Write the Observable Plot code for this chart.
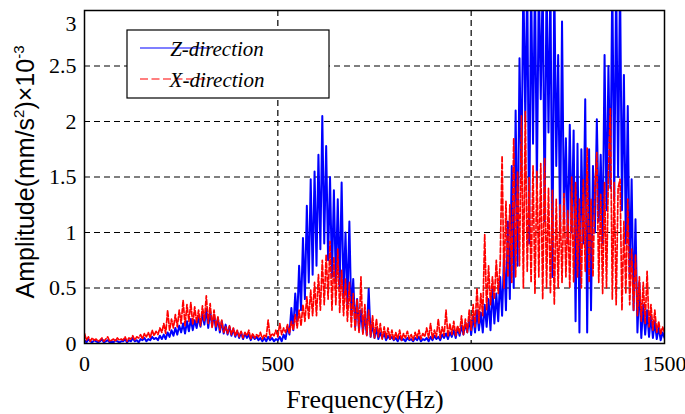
<!DOCTYPE html>
<html><head><meta charset="utf-8">
<script src="https://cdn.jsdelivr.net/npm/d3@7"></script>
<script src="https://cdn.jsdelivr.net/npm/@observablehq/plot@0.6"></script>
<style>body{margin:0;background:#fff;}</style>
</head><body><div id="chart"></div>
<script>
// Frequency sampling (Hz)
const freqStart = 0, freqStep = 5;
// Amplitude (mm/s^2 x 10^-3), Z-direction, read every 5 Hz
const zDirection = [
0.03,0.01,0.04,0.02,0.01,0.03,0.02,0.01,0.02,0.04,0.01,0.02,0.03,0.01,0.02,0.01,0.03,0.02,0.01,0.02,
0.02,0.04,0.01,0.03,0.02,0.05,0.02,0.03,0.01,0.04,0.03,0.05,0.02,0.04,0.03,0.06,0.04,0.05,0.03,0.07,
0.04,0.08,0.04,0.10,0.06,0.12,0.07,0.14,0.08,0.16,0.10,0.18,0.09,0.20,0.11,0.22,0.12,0.21,0.14,0.24,
0.15,0.27,0.17,0.31,0.14,0.29,0.16,0.26,0.12,0.23,0.10,0.20,0.09,0.17,0.08,0.15,0.07,0.13,0.06,0.11,
0.05,0.10,0.04,0.09,0.05,0.08,0.03,0.07,0.04,0.06,0.03,0.05,0.02,0.05,0.02,0.06,0.03,0.05,0.02,0.04,
0.03,0.06,0.02,0.08,0.04,0.15,0.08,0.32,0.12,0.45,0.20,0.70,0.30,0.95,0.40,1.24,0.55,1.48,0.62,1.55,
0.70,1.70,0.85,2.05,0.90,1.78,0.75,1.50,0.60,1.38,0.55,1.30,0.50,1.45,0.42,1.00,0.35,1.10,0.25,0.58,
0.15,0.40,0.12,0.30,0.10,0.25,0.08,0.49,0.06,0.18,0.05,0.14,0.04,0.10,0.05,0.09,0.03,0.07,0.04,0.06,
0.03,0.05,0.02,0.06,0.03,0.04,0.02,0.05,0.03,0.04,0.02,0.05,0.03,0.06,0.02,0.04,0.03,0.05,0.02,0.06,
0.03,0.07,0.04,0.06,0.03,0.08,0.05,0.09,0.04,0.10,0.06,0.12,0.05,0.14,0.07,0.16,0.08,0.18,0.10,0.22,
0.08,0.25,0.10,0.30,0.12,0.28,0.10,0.35,0.15,0.40,0.12,0.50,0.18,0.45,0.20,0.60,0.25,0.80,0.30,1.10,
0.40,1.60,0.50,2.10,0.70,2.57,1.50,3.30,2.00,3.30,0.90,3.30,1.80,3.30,1.40,3.30,2.20,3.30,1.10,3.30,
1.90,3.30,0.60,3.30,1.60,2.60,1.00,2.90,1.10,1.85,0.90,1.97,1.00,1.92,0.20,1.80,0.10,1.75,0.90,2.20,
0.10,1.75,0.30,1.60,1.00,2.02,1.10,1.70,0.90,2.60,1.20,2.50,1.40,3.30,1.30,3.30,1.50,3.30,1.20,2.42,
0.90,2.14,0.60,1.48,0.30,1.12,0.10,0.55,0.05,0.35,0.08,0.30,0.06,0.25,0.05,0.20,0.04,0.15,0.03,0.10,
0.05
];
// Amplitude, X-direction, read every 5 Hz
const xDirection = [
0.09,0.03,0.06,0.02,0.05,0.03,0.04,0.02,0.03,0.05,0.02,0.04,0.06,0.02,0.03,0.04,0.02,0.05,0.03,0.04,
0.03,0.06,0.02,0.05,0.04,0.07,0.03,0.06,0.05,0.08,0.04,0.09,0.06,0.10,0.05,0.12,0.07,0.11,0.08,0.14,
0.10,0.18,0.09,0.30,0.12,0.22,0.14,0.26,0.15,0.30,0.18,0.39,0.16,0.35,0.20,0.37,0.17,0.33,0.19,0.30,
0.16,0.34,0.20,0.43,0.18,0.36,0.14,0.30,0.15,0.24,0.12,0.21,0.10,0.15,0.09,0.16,0.08,0.14,0.07,0.12,
0.06,0.11,0.05,0.10,0.07,0.12,0.04,0.09,0.05,0.08,0.06,0.10,0.04,0.08,0.06,0.21,0.05,0.09,0.07,0.12,
0.06,0.18,0.08,0.14,0.10,0.17,0.09,0.20,0.12,0.26,0.14,0.30,0.16,0.35,0.20,0.42,0.22,0.48,0.25,0.55,
0.25,0.62,0.30,0.75,0.35,0.80,0.40,0.92,0.30,0.78,0.35,0.85,0.28,0.66,0.25,0.58,0.20,0.55,0.15,0.45,
0.12,0.40,0.10,0.60,0.08,0.35,0.07,0.30,0.06,0.25,0.05,0.22,0.06,0.18,0.04,0.15,0.05,0.14,0.04,0.12,
0.03,0.10,0.04,0.12,0.03,0.09,0.05,0.11,0.04,0.08,0.03,0.10,0.05,0.12,0.04,0.09,0.06,0.14,0.05,0.18,
0.04,0.12,0.06,0.22,0.05,0.15,0.07,0.30,0.06,0.18,0.08,0.20,0.07,0.16,0.09,0.25,0.08,0.22,0.10,0.30,
0.12,0.35,0.15,0.50,0.18,0.45,0.25,0.98,0.30,0.70,0.35,0.60,0.40,0.75,0.45,0.72,1.69,0.50,1.28,0.60,
1.25,0.55,1.85,0.60,1.55,0.70,2.05,0.50,2.09,0.65,1.50,0.55,1.60,0.45,1.55,0.60,1.62,0.40,1.67,0.50,
1.40,0.45,1.38,0.35,1.30,0.50,1.25,0.55,1.35,0.60,1.20,0.50,1.50,0.55,1.45,0.60,1.30,0.50,1.48,0.65,
1.76,0.55,1.30,0.60,1.40,1.72,0.55,1.35,0.45,1.45,0.50,1.55,2.12,0.40,1.45,0.35,1.40,1.48,0.30,1.10,
0.45,1.30,0.35,0.85,0.30,0.80,0.25,0.60,0.20,0.55,0.18,0.65,0.15,0.35,0.12,0.30,0.10,0.20,0.08,0.15,
0.10
];
const xTicks = [0, 500, 1000, 1500];
const yTicks = [0, 0.5, 1, 1.5, 2, 2.5, 3];
const gridX = [500, 1000];
const gridY = [0.5, 1, 1.5, 2, 2.5];
const seriesNames = ["Z-direction", "X-direction"];
const seriesColors = ["#0000ff", "#ff0000"];
const xLabel = "Frequency(Hz)";

const serif = "'Liberation Serif', 'Times New Roman', serif";
const rows = zDirection.map((z, i) => ({f: freqStart + i * freqStep, z, x: xDirection[i]}));

const chart = Plot.plot({
  width: 685, height: 414,
  marginLeft: 84, marginRight: 21, marginTop: 10, marginBottom: 71,
  x: {domain: [0, 1500]},
  y: {domain: [0, 3]},
  style: {background: "#fff", color: "#000"},
  marks: [
    Plot.ruleX(gridX, {stroke: "#000", strokeWidth: 1.2, strokeDasharray: "6,4"}),
    Plot.ruleY(gridY, {stroke: "#000", strokeWidth: 1.2, strokeDasharray: "6,4"}),
    Plot.line(rows, {x: "f", y: "z", stroke: seriesColors[0], strokeWidth: 2, clip: true}),
    Plot.line(rows, {x: "f", y: "x", stroke: seriesColors[1], strokeWidth: 1.7, strokeDasharray: "5,2", clip: true}),
    Plot.frame({stroke: "#000", strokeWidth: 1.5}),
    Plot.axisX(xTicks, {tickSize: 0, tickPadding: 12, label: null, tickFormat: d => String(d)}),
    Plot.axisY(yTicks, {tickSize: 0, tickPadding: 8, label: null, tickFormat: d => String(d)})
  ]
});
document.getElementById("chart").appendChild(chart);

const svg = d3.select(chart);
svg.selectAll("g[aria-label$='tick label']")
  .attr("font-family", serif).attr("font-size", 22).style("font-family", serif).style("font-size", "22px");
// keep the top "3" label inside the picture, as in the reference
svg.selectAll("g[aria-label='y-axis tick label'] text")
  .filter(function () { return this.textContent === "3"; })
  .attr("dy", "0.62em");

// y-axis label
const yl = svg.append("text")
  .attr("transform", "translate(34,172) rotate(-90)")
  .attr("text-anchor", "middle")
  .attr("font-family", "'Liberation Sans', Arial, sans-serif")
  .attr("font-size", 25).attr("fill", "#000");
yl.append("tspan").text("Amplitude(mm/s");
yl.append("tspan").attr("font-size", 15).attr("dy", -10).text("2");
yl.append("tspan").attr("dy", 10).text(")×10");
yl.append("tspan").attr("font-size", 15).attr("dy", -10).text("-3");
// x-axis label
svg.append("text").attr("x", 365).attr("y", 408).attr("text-anchor", "middle")
  .attr("font-family", serif).attr("font-size", 26).attr("fill", "#000")
  .text(xLabel);
// legend
const lg = svg.append("g");
lg.append("rect").attr("x", 127).attr("y", 30).attr("width", 202).attr("height", 68)
  .attr("fill", "#fff").attr("stroke", "#000").attr("stroke-width", 1.2);
[48, 79].forEach((yy, i) => {
  lg.append("line").attr("x1", 140).attr("x2", 209).attr("y1", yy).attr("y2", yy)
    .attr("stroke", seriesColors[i]).attr("stroke-width", 1.2)
    .attr("stroke-dasharray", i === 1 ? "8,3.5" : null);
  lg.append("text").attr("x", 217).attr("y", yy + 8)
    .attr("font-family", serif).attr("font-style", "italic")
    .attr("font-size", 21).attr("fill", "#000").text(seriesNames[i]);
});
</script>
</body></html>
